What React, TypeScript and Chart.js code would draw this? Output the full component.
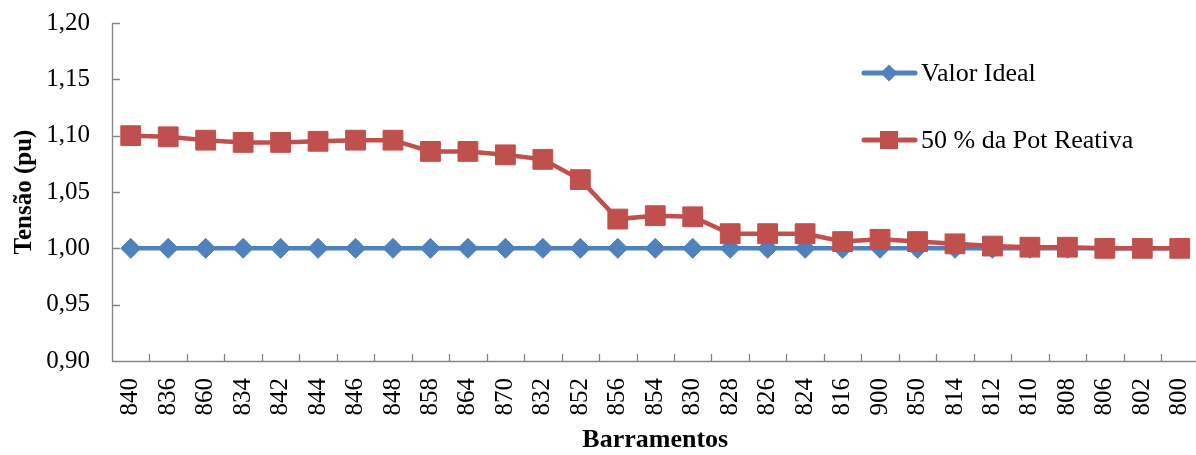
import React, { useEffect, useRef } from 'react';
import { Chart, registerables } from 'chart.js';

Chart.register(...registerables);

const categories = [
  '840', '836', '860', '834', '842', '844', '846', '848', '858', '864',
  '870', '832', '852', '856', '854', '830', '828', '826', '824', '816',
  '900', '850', '814', '812', '810', '808', '806', '802', '800',
];

const valorIdeal = [
  1.0, 1.0, 1.0, 1.0, 1.0, 1.0, 1.0, 1.0, 1.0, 1.0,
  1.0, 1.0, 1.0, 1.0, 1.0, 1.0, 1.0, 1.0, 1.0, 1.0,
  1.0, 1.0, 1.0, 1.0, 1.0, 1.0, 1.0, 1.0, 1.0,
];

const potReativa50 = [
  1.1, 1.099, 1.096, 1.094, 1.094, 1.095, 1.096, 1.096, 1.086, 1.086,
  1.083, 1.079, 1.061, 1.026, 1.029, 1.028, 1.013, 1.013, 1.013, 1.006,
  1.008, 1.006, 1.004, 1.002, 1.001, 1.001, 1.0, 1.0, 1.0,
];

const yMin = 0.9;
const yMax = 1.2;
const yStep = 0.05;

const seriesNames = ['Valor Ideal', '50 % da Pot Reativa'];
const BLUE = '#4F81BD';
const RED = '#C0504D';
const AXIS = '#868686';
const FONT = '"Liberation Serif", "Times New Roman", serif';

const axesPlugin = {
  id: 'excelAxes',
  beforeDatasetsDraw(chart: any) {
    const { ctx, chartArea, scales } = chart;
    const { left, right, top, bottom } = chartArea;
    ctx.save();
    ctx.strokeStyle = AXIS;
    ctx.lineWidth = 1.3;
    ctx.beginPath();
    ctx.moveTo(left + 0.5, top);
    ctx.lineTo(left + 0.5, bottom + 0.5);
    ctx.lineTo(right, bottom + 0.5);
    scales.y.ticks.forEach((t: any) => {
      const y = Math.round(scales.y.getPixelForValue(t.value)) + 0.5;
      ctx.moveTo(left, y);
      ctx.lineTo(left + 8, y);
    });
    for (let i = 1; i < categories.length; i++) {
      const x = Math.round((scales.x.getPixelForValue(i - 1) + scales.x.getPixelForValue(i)) / 2) + 0.5;
      ctx.moveTo(x, bottom);
      ctx.lineTo(x, bottom - 7);
    }
    ctx.stroke();
    ctx.restore();
  },
  afterDraw(chart: any) {
    const { ctx } = chart;
    ctx.save();
    const items = [
      { name: seriesNames[0], color: BLUE, y: 73, shape: 'diamond' },
      { name: seriesNames[1], color: RED, y: 140, shape: 'square' },
    ];
    items.forEach((it) => {
      ctx.strokeStyle = it.color;
      ctx.fillStyle = it.color;
      ctx.lineWidth = 5;
      ctx.lineCap = 'round';
      ctx.beginPath();
      ctx.moveTo(864, it.y);
      ctx.lineTo(915, it.y);
      ctx.stroke();
      const cx = 889;
      ctx.beginPath();
      if (it.shape === 'diamond') {
        const r = 8.5;
        ctx.moveTo(cx - r, it.y);
        ctx.lineTo(cx, it.y - r);
        ctx.lineTo(cx + r, it.y);
        ctx.lineTo(cx, it.y + r);
        ctx.closePath();
      } else {
        const s = 9;
        ctx.rect(cx - s, it.y - s, 2 * s, 2 * s);
      }
      ctx.fill();
      ctx.fillStyle = '#000';
      ctx.font = `26px ${FONT}`;
      ctx.textBaseline = 'middle';
      ctx.textAlign = 'left';
      ctx.fillText(it.name, 921, it.y + 1);
    });
    ctx.restore();
  },
};

function zeroPadding(scale: any) {
  scale.paddingTop = 0;
  scale.paddingBottom = 0;
  scale.paddingLeft = 0;
  scale.paddingRight = 0;
}

export default function App() {
  const canvasRef = useRef<HTMLCanvasElement | null>(null);

  useEffect(() => {
    const canvas = canvasRef.current;
    if (!canvas) return;
    const chart = new Chart(canvas, {
      type: 'line',
      data: {
        labels: categories,
        datasets: [
          {
            label: seriesNames[0],
            data: valorIdeal,
            borderColor: BLUE,
            backgroundColor: BLUE,
            borderWidth: 4.5,
            pointStyle: 'rectRot',
            pointRadius: 10,
            pointBackgroundColor: BLUE,
            pointBorderColor: BLUE,
            pointBorderWidth: 1,
            tension: 0,
            order: 2,
          },
          {
            label: seriesNames[1],
            data: potReativa50,
            borderColor: RED,
            backgroundColor: RED,
            borderWidth: 4.5,
            pointStyle: 'rect',
            pointRadius: 14,
            pointBackgroundColor: RED,
            pointBorderColor: RED,
            pointBorderWidth: 1,
            tension: 0,
            order: 1,
          },
        ],
      },
      options: {
        responsive: false,
        devicePixelRatio: 1,
        animation: false,
        events: [],
        layout: { autoPadding: false, padding: { top: 23, right: 1.5, left: 0, bottom: 0 } },
        plugins: {
          legend: { display: false },
          tooltip: { enabled: false },
        },
        scales: {
          x: {
            type: 'category',
            offset: true,
            grid: { display: false, drawTicks: false, offset: true },
            border: { display: false },
            ticks: {
              color: '#000',
              font: { family: FONT, size: 25 },
              minRotation: 90,
              maxRotation: 90,
              autoSkip: false,
              padding: 17,
            },
            title: {
              display: true,
              text: 'Barramentos',
              color: '#000',
              font: { family: FONT, size: 26, weight: 'bold', lineHeight: 1 },
              padding: { top: 0, bottom: 2 },
            },
            afterFit(scale: any) {
              scale.height = 94;
              zeroPadding(scale);
            },
          },
          y: {
            min: yMin,
            max: yMax,
            grid: { display: false, drawTicks: false },
            border: { display: false },
            ticks: {
              stepSize: yStep,
              color: '#000',
              font: { family: FONT, size: 25 },
              padding: 22,
              callback: (v: any) => Number(v).toFixed(2).replace('.', ','),
            },
            title: {
              display: true,
              text: 'Tensão (pu)',
              color: '#000',
              font: { family: FONT, size: 25, weight: 'bold', lineHeight: 1 },
              padding: { top: 12, bottom: 0 },
            },
            afterFit(scale: any) {
              scale.width = 112;
              zeroPadding(scale);
            },
          },
        },
      },
      plugins: [axesPlugin],
    });
    return () => chart.destroy();
  }, []);

  return (
    <div
      style={{
        position: 'absolute',
        left: 0,
        top: 0,
        width: 1196,
        height: 455,
        overflow: 'hidden',
        background: '#fff',
      }}
    >
      <canvas ref={canvasRef} width={1200} height={455} style={{ display: 'block', width: 1200, height: 455 }} />
    </div>
  );
}
